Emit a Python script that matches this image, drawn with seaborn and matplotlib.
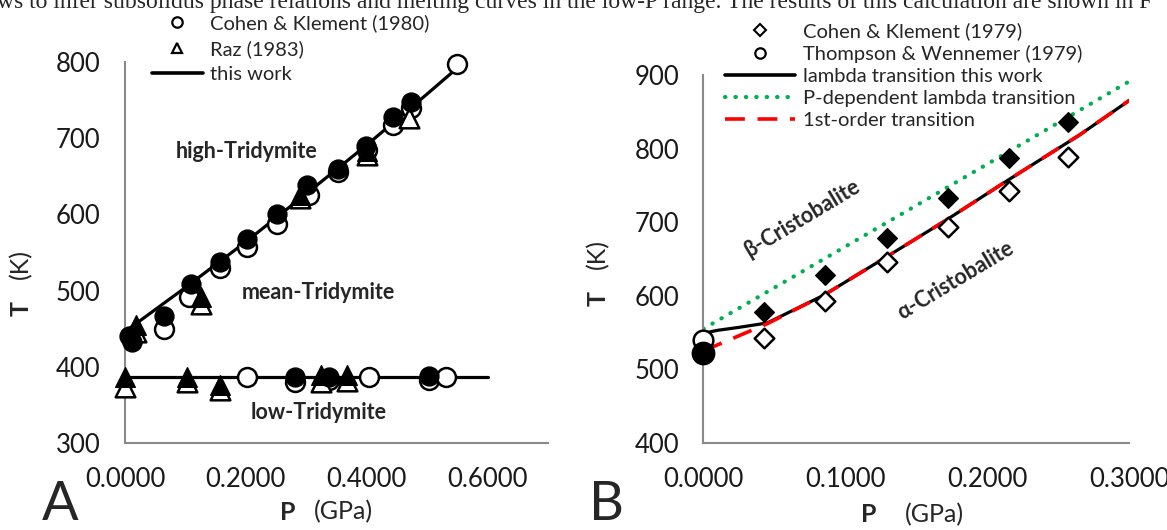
import numpy as np
import pandas as pd
import matplotlib
matplotlib.use("Agg")
import matplotlib.pyplot as plt
import seaborn as sns
from matplotlib.lines import Line2D
from matplotlib.ticker import FixedLocator, MultipleLocator, FuncFormatter

# ---------------- Panel A data (Tridymite) ----------------
# this work (lines)
lineA_hi_P = [0.0, 0.1, 0.2, 0.3, 0.4, 0.5, 0.56]
lineA_hi_T = [446, 504, 564, 627, 691, 758, 799]
lineA_lo_P = [0.0, 0.6]
lineA_lo_T = [386, 386]

# Cohen & Klement (1980) - open circles
ck80_P = [0.012, 0.064, 0.106, 0.157, 0.2025, 0.251, 0.305, 0.352, 0.40, 0.443, 0.473, 0.549,
          0.2025, 0.281, 0.337, 0.404, 0.503, 0.531]
ck80_T = [436, 450, 492, 529, 557, 588, 625, 656, 685, 717, 739, 797,
          386, 380, 383, 387, 382, 386]
# calculated at Cohen & Klement pressures - filled circles
ck80c_P = [0.006, 0.012, 0.064, 0.1085, 0.157, 0.2025, 0.251, 0.3007, 0.352, 0.3985, 0.443, 0.473,
           0.281, 0.337, 0.503]
ck80c_T = [440, 432, 466, 509, 538, 568, 601, 638, 660, 690, 728, 747,
           387, 386, 388]

# Raz (1983) - open triangles
raz_P = [0.018, 0.125, 0.29, 0.40, 0.47, 0.0, 0.103, 0.158, 0.324, 0.367]
raz_T = [446, 483, 622, 678, 726, 374, 380, 369, 380, 381]
# calculated at Raz pressures - filled triangles
razc_P = [0.018, 0.125, 0.29, 0.40, 0.0, 0.103, 0.158, 0.324, 0.367]
razc_T = [455, 492, 625, 683, 387, 387, 376, 389, 389]

# ---------------- Panel B data (Cristobalite) ----------------
ck79_P = [0.043, 0.086, 0.129, 0.172, 0.215, 0.257]
ck79_T = [542, 593, 646, 694, 742, 789]
ck79c_T = [578, 628, 678, 733, 787, 837]
tw79_P = [0.0]
tw79_T = [540]
tw79c_T = [522]

lambda_P = [0.0, 0.01, 0.025, 0.045, 0.085, 0.129, 0.171, 0.215, 0.265, 0.3]
lambda_T = [549, 553, 557, 563, 601, 653, 703, 758, 819, 866]
pdep_P = [0.0, 0.15, 0.3]
pdep_T = [555, 723, 892]
first_P = [0.0, 0.045, 0.085, 0.129, 0.171, 0.215, 0.265, 0.3]
first_T = [525, 562, 601, 653, 703, 758, 819, 866]

# ---------------- style ----------------
sns.set_style("white")
FONT = ["Lato", "DejaVu Sans"]
plt.rcParams["font.family"] = FONT
GREY = "#8a8a8a"
GREEN = "#00b050"
RED = "#ff0000"

fig = plt.figure(figsize=(11.67, 5.30), dpi=100)
axA = fig.add_axes([0.1071, 0.1642, 0.3625, 0.7189])
axB = fig.add_axes([0.6027, 0.1647, 0.3650, 0.6930])


def df(p, t):
    return pd.DataFrame({"P": p, "T": t})


def style_axes(ax):
    for s in ["top", "right"]:
        ax.spines[s].set_visible(False)
    for s in ["left", "bottom"]:
        ax.spines[s].set_color(GREY)
        ax.spines[s].set_linewidth(1.5)
    ax.tick_params(which="both", direction="in", color=GREY, width=1.2,
                   labelsize=18.5, labelcolor="#1a1a1a", pad=17.5)
    ax.tick_params(which="major", length=7)
    ax.tick_params(which="minor", length=5)
    ax.xaxis.set_major_formatter(FuncFormatter(lambda v, p: f"{v:.4f}"))
    ax.set_xlabel("")
    ax.set_ylabel("")
    ax.grid(False)


# ---------------- Panel A ----------------
sns.lineplot(data=df(lineA_hi_P, lineA_hi_T), x="P", y="T", sort=False, estimator=None,
             color="black", lw=2.3, ax=axA, zorder=2)
sns.lineplot(data=df(lineA_lo_P, lineA_lo_T), x="P", y="T", sort=False, estimator=None,
             color="black", lw=2.3, ax=axA, zorder=2)
sns.scatterplot(data=df(ck80_P, ck80_T), x="P", y="T", marker="o", s=185, color="white",
                edgecolor="black", linewidth=1.8, ax=axA, zorder=3, clip_on=False)
sns.scatterplot(data=df(raz_P, raz_T), x="P", y="T", marker="^", s=200, color="white",
                edgecolor="black", linewidth=1.8, ax=axA, zorder=3, clip_on=False)
sns.scatterplot(data=df(ck80c_P, ck80c_T), x="P", y="T", marker="o", s=185, color="black",
                edgecolor="black", linewidth=1.0, ax=axA, zorder=4, clip_on=False)
sns.scatterplot(data=df(razc_P, razc_T), x="P", y="T", marker="^", s=200, color="black",
                edgecolor="black", linewidth=1.0, ax=axA, zorder=4, clip_on=False)

axA.set_xlim(0, 0.7)
axA.set_ylim(300, 800)
axA.xaxis.set_major_locator(FixedLocator([0.0, 0.2, 0.4, 0.6]))
axA.xaxis.set_minor_locator(MultipleLocator(0.05))
axA.yaxis.set_major_locator(MultipleLocator(100))
axA.yaxis.set_minor_locator(MultipleLocator(50))
style_axes(axA)
axA.tick_params(which="both", length=6)

axA.text(0.287, 0.764, "high-Tridymite", transform=axA.transAxes, ha="center", va="center",
         fontsize=15.5, fontweight="bold")
axA.text(0.457, 0.396, "mean-Tridymite", transform=axA.transAxes, ha="center", va="center",
         fontsize=15.5, fontweight="bold")
axA.text(0.457, 0.081, "low-Tridymite", transform=axA.transAxes, ha="center", va="center",
         fontsize=15.5, fontweight="bold")

hA = [Line2D([], [], marker="o", ls="none", mfc="white", mec="black", ms=7.5, mew=1.6),
      Line2D([], [], marker="^", ls="none", mfc="white", mec="black", ms=7.5, mew=1.6),
      Line2D([], [], color="black", lw=2.6)]
legA = axA.legend(hA, ["Cohen & Klement (1980)", "Raz (1983)", "this work"],
                  loc="upper left", bbox_to_anchor=(152 / 1167, 1 - 14 / 530),
                  bbox_transform=fig.transFigure, frameon=False, fontsize=14.5,
                  handlelength=2.53, handletextpad=0.35, labelspacing=0.41,
                  borderpad=0, borderaxespad=0)

# ---------------- Panel B ----------------
sns.lineplot(data=df(lambda_P, lambda_T), x="P", y="T", sort=False, estimator=None,
             color="black", lw=2.3, ax=axB, zorder=2)
sns.lineplot(data=df(pdep_P, pdep_T), x="P", y="T", sort=False, estimator=None,
             color=GREEN, lw=3.0, ax=axB, zorder=2)
axB.lines[-1].set_linestyle((0, (0.1, 2.4)))
axB.lines[-1].set_dash_capstyle("round")
sns.lineplot(data=df(first_P, first_T), x="P", y="T", sort=False, estimator=None,
             color=RED, lw=2.6, ax=axB, zorder=2.5)
axB.lines[-1].set_linestyle((0, (5.5, 3.5)))

sns.scatterplot(data=df(ck79_P, ck79_T), x="P", y="T", marker="D", s=100, color="white",
                edgecolor="black", linewidth=1.8, ax=axB, zorder=3, clip_on=False)
sns.scatterplot(data=df(ck79_P, ck79c_T), x="P", y="T", marker="D", s=100, color="black",
                edgecolor="black", linewidth=1.0, ax=axB, zorder=4, clip_on=False)
sns.scatterplot(data=df(tw79_P, tw79_T), x="P", y="T", marker="o", s=200, color="white",
                edgecolor="black", linewidth=1.8, ax=axB, zorder=3, clip_on=False)
sns.scatterplot(data=df(tw79_P, tw79c_T), x="P", y="T", marker="o", s=260, color="black",
                edgecolor="black", linewidth=1.0, ax=axB, zorder=4, clip_on=False)

axB.set_xlim(0, 0.3)
axB.set_ylim(400, 900)
axB.xaxis.set_major_locator(MultipleLocator(0.1))
axB.xaxis.set_minor_locator(MultipleLocator(0.02))
axB.yaxis.set_major_locator(MultipleLocator(100))
style_axes(axB)

axB.text(0.232, 0.61, "β-Cristobalite", transform=axB.transAxes, ha="center", va="center",
         fontsize=15.5, fontweight="bold", rotation=31)
axB.text(0.591, 0.443, "α-Cristobalite", transform=axB.transAxes, ha="center", va="center",
         fontsize=15.5, fontweight="bold", rotation=31)

hB = [Line2D([], [], marker="D", ls="none", mfc="white", mec="black", ms=6, mew=1.5),
      Line2D([], [], marker="o", ls="none", mfc="white", mec="black", ms=7.5, mew=1.6),
      Line2D([], [], color="black", lw=2.6),
      Line2D([], [], color=GREEN, lw=3.0, ls=(0, (0.1, 2.4)), dash_capstyle="round"),
      Line2D([], [], color=RED, lw=2.6, ls=(0, (5.5, 3.5)))]
legB = axB.legend(hB, ["Cohen & Klement (1979)", "Thompson & Wennemer (1979)",
                       "lambda transition this work", "P-dependent lambda transition",
                       "1st-order transition"],
                  loc="upper left", bbox_to_anchor=(725 / 1167, 1 - 22 / 530),
                  bbox_transform=fig.transFigure, frameon=False, fontsize=14.5,
                  handlelength=3.48, handletextpad=0.4, labelspacing=0.245,
                  borderpad=0, borderaxespad=0)

# ---------------- axis titles & panel letters ----------------
def fx(px):
    return px / 1167


def fy(py):
    return 1 - py / 530


fig.text(fx(288), fy(512), "P", ha="center", va="center", fontsize=18, fontweight="bold")
fig.text(fx(343), fy(512), "(GPa)", ha="center", va="center", fontsize=18)
fig.text(fx(869), fy(515), "P", ha="center", va="center", fontsize=18, fontweight="bold")
fig.text(fx(934), fy(515), "(GPa)", ha="center", va="center", fontsize=18)

fig.text(fx(21), fy(308), "T", ha="center", va="center", fontsize=18, fontweight="bold",
         rotation=90)
fig.text(fx(21), fy(264), "(K)", ha="center", va="center", fontsize=18, rotation=90)
fig.text(fx(598), fy(298), "T", ha="center", va="center", fontsize=18, fontweight="bold",
         rotation=90)
fig.text(fx(598), fy(254), "(K)", ha="center", va="center", fontsize=18, rotation=90)

fig.text(fx(60), fy(504), "A", ha="center", va="center", fontsize=39)
fig.text(fx(606), fy(505), "B", ha="center", va="center", fontsize=39)

# clipped line of body text at the very top
fig.text(fx(-3), fy(8), "ws to infer subsolidus phase relations and melting curves in the low-P "
         "range. The results of this calculation are shown in F",
         ha="left", va="baseline", fontsize=17, family=["Liberation Serif", "DejaVu Serif"])

fig.savefig("out.png", dpi=100)
